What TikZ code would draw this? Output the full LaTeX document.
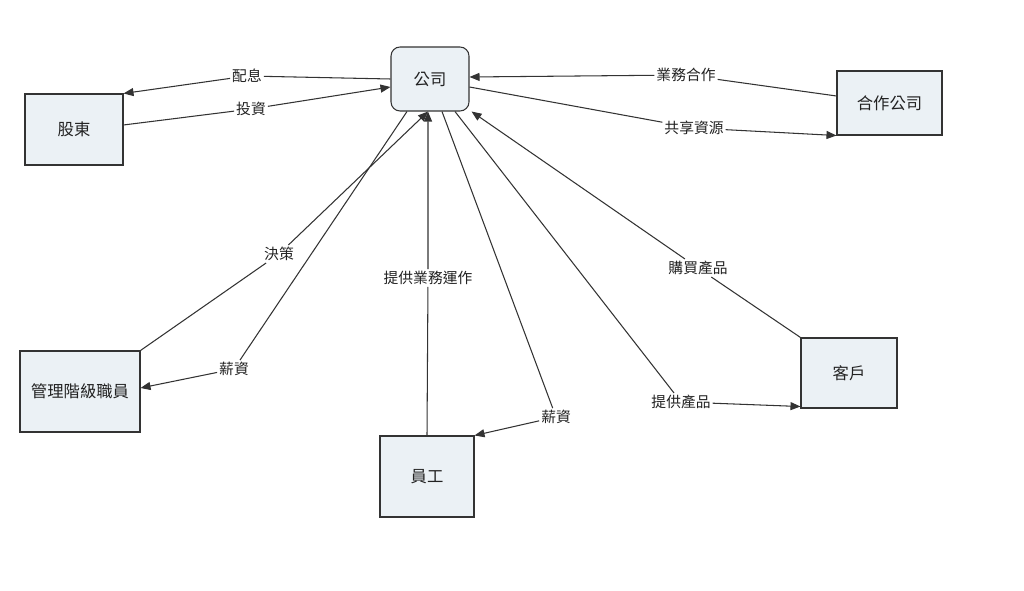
\documentclass[tikz,border=0pt]{standalone}
\usepackage{fontspec}
\newfontfamily\cjk{Noto Sans CJK TC}
\usetikzlibrary{arrows.meta,calc}
\definecolor{boxfill}{HTML}{EBF1F5}
\definecolor{edgec}{HTML}{333333}
\definecolor{txt}{HTML}{222222}
\begin{document}
\begin{tikzpicture}[x=0.02cm,y=-0.02cm,
  box/.style={draw=edgec,fill=boxfill,line width=0.6pt,text=txt,font=\cjk\fontsize{9.3}{11}\selectfont,inner sep=0pt},
  lbl/.style={fill=white,text=txt,font=\cjk\fontsize{8.4}{10}\selectfont,inner sep=1pt},
  conn/.style={draw=edgec,line width=0.6pt,-{Triangle[length=0.2cm,width=0.16cm]}}]
\useasboundingbox (0,0) rectangle (1024,591);
% nodes
\node[box,rounded corners=0.18cm,minimum width=1.56cm,minimum height=1.28cm] (gs) at (430,79) {公司};
\node[box,minimum width=1.96cm,minimum height=1.42cm] (gd) at (74,129.5) {股東};
\node[box,minimum width=2.10cm,minimum height=1.28cm] (hz) at (889.5,103) {合作公司};
\node[box,minimum width=2.40cm,minimum height=1.62cm] (gl) at (80,391.5) {管理階級職員};
\node[box,minimum width=1.88cm,minimum height=1.62cm] (yg) at (427,476.5) {員工};
\node[box,minimum width=1.92cm,minimum height=1.40cm] (kh) at (849,373) {客戶};
% labels
\node[lbl] (l1) at (247,76) {配息};
\node[lbl] (l2) at (251,109) {投資};
\node[lbl] (l3) at (686,75) {業務合作};
\node[lbl] (l4) at (694,128) {共享資源};
\node[lbl] (l5) at (279,254) {決策};
\node[lbl] (l6) at (234,369) {薪資};
\node[lbl] (l7) at (428,278) {提供業務運作};
\node[lbl] (l8) at (556,417) {薪資};
\node[lbl] (l9) at (681,402) {提供產品};
\node[lbl] (l10) at (698,268) {購買產品};
% connectors
\draw[conn] (gs.west) -- (l1) -- (gd.north east);
\draw[conn] ($(gd.east)+(0,-4.5)$) -- (l2) -- ($(gs.west)+(0,8)$);
\draw[conn] ($(hz.west)+(0,-7)$) -- (l3) -- ($(gs.east)+(0,-2)$);
\draw[conn] ($(gs.east)+(0,8)$) -- (l4) -- (hz.south west);
\draw[conn] (gl.north east) -- (l5) -- ($(gs.south)+(-2,0)$);
\draw[conn] ($(gs.south)+(-23,0)$) -- (l6) -- ($(gl.east)+(0,-3.5)$);
\draw[conn] (yg.north) -- (l7) -- ($(gs.south)+(-2,0)$);
\draw[conn] ($(gs.south)+(12,0)$) -- (l8) -- (yg.north east);
\draw[conn] ($(gs.south)+(25,0)$) -- (l9) -- ($(kh.south west)+(0,-2)$);
\draw[conn] (kh.north west) -- (l10) -- ($(gs.south east)+(2,0)$);
\end{tikzpicture}
\end{document}
